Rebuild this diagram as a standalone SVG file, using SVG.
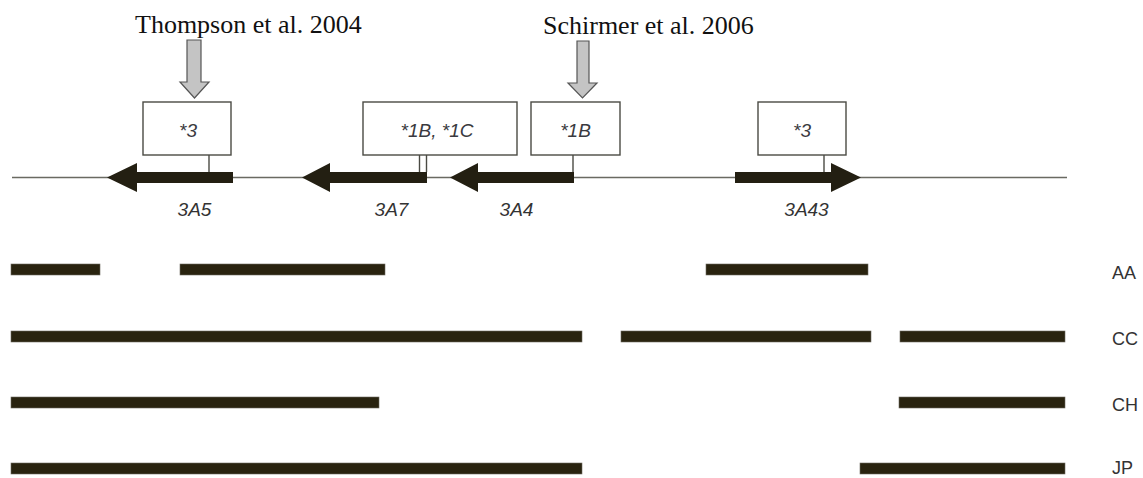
<svg xmlns="http://www.w3.org/2000/svg" width="1143" height="478" viewBox="0 0 1143 478">
<style>
.ref{font-family:"Liberation Serif",serif;font-size:26px;fill:#111}
.box{fill:#fff;stroke:#4a4a44;stroke-width:1.4}
.stem{stroke:#4a4a44;stroke-width:1.4;fill:none}
.btxt{font-family:"Liberation Sans",Arial,sans-serif;font-style:italic;font-size:19px;fill:#3a3a40;text-anchor:middle}
.gene{font-family:"Liberation Sans",Arial,sans-serif;font-style:italic;font-size:19px;fill:#333;text-anchor:middle}
.gray{fill:#c4c4c4;stroke:#555;stroke-width:1.2}
.garrow{fill:#231f12}
.bar{fill:#29230f;stroke:#6d6a60;stroke-width:0.6}
.pop{font-family:"Liberation Sans",Arial,sans-serif;font-size:18px;fill:#333}
</style>
<g id="refs">
<text class="ref" x="135" y="33">Thompson et al. 2004</text>
<text class="ref" x="543" y="34">Schirmer et al. 2006</text>
<polygon class="gray" points="187,40 201,40 201,82 209,82 194.5,98 180,82 187,82"/>
<polygon class="gray" points="577,41 589,41 589,83 597,83 582.5,98 568,83 577,83"/>
</g>
<g id="connectors">
<line x1="12" y1="177.5" x2="1067" y2="177.5" stroke="#6a6a62" stroke-width="1.5"/>
<line class="stem" x1="209" y1="155" x2="209" y2="172"/>
<line class="stem" x1="419.5" y1="155" x2="419.5" y2="172"/>
<line class="stem" x1="426.5" y1="155" x2="426.5" y2="172"/>
<line class="stem" x1="573" y1="155" x2="573" y2="172"/>
<line class="stem" x1="824" y1="155" x2="824" y2="172"/>
</g>
<g id="gene-3A5">
<polygon class="garrow" points="107,177.5 137,163 137,172 233,172 233,183 137,183 137,192"/>
<text class="gene" x="194.5" y="216">3A5</text>
</g>
<g id="gene-3A7">
<polygon class="garrow" points="302,177.5 330,163 330,172 427,172 427,183 330,183 330,192"/>
<text class="gene" x="391.5" y="216">3A7</text>
</g>
<g id="gene-3A4">
<polygon class="garrow" points="450,177.5 478,163 478,172 574,172 574,183 478,183 478,192"/>
<text class="gene" x="516.5" y="216">3A4</text>
</g>
<g id="gene-3A43">
<polygon class="garrow" points="861,177.5 831,163 831,172 735,172 735,183 831,183 831,192"/>
<text class="gene" x="806.5" y="216">3A43</text>
</g>
<g id="box-3a">
<rect class="box" x="143" y="102" width="88" height="53"/>
<text class="btxt" x="188" y="137">*3</text>
</g>
<g id="box-1b1c">
<rect class="box" x="363" y="102" width="154" height="53"/>
<text class="btxt" x="437" y="137">*1B, *1C</text>
</g>
<g id="box-1b">
<rect class="box" x="531" y="102" width="89" height="53"/>
<text class="btxt" x="575.5" y="137">*1B</text>
</g>
<g id="box-3b">
<rect class="box" x="758" y="102" width="88" height="53"/>
<text class="btxt" x="802" y="137">*3</text>
</g>
<g id="row-AA">
<rect class="bar" x="11" y="264" width="89" height="11"/>
<rect class="bar" x="180" y="264" width="205" height="11"/>
<rect class="bar" x="706" y="264" width="162" height="11"/>
<text class="pop" x="1112" y="279">AA</text>
</g>
<g id="row-CC">
<rect class="bar" x="11" y="331" width="571" height="11"/>
<rect class="bar" x="621" y="331" width="250" height="11"/>
<rect class="bar" x="900" y="331" width="165" height="11"/>
<text class="pop" x="1112" y="345">CC</text>
</g>
<g id="row-CH">
<rect class="bar" x="11" y="397" width="368" height="11"/>
<rect class="bar" x="899" y="397" width="166" height="11"/>
<text class="pop" x="1112" y="411">CH</text>
</g>
<g id="row-JP">
<rect class="bar" x="11" y="463" width="571" height="11"/>
<rect class="bar" x="860" y="463" width="205" height="11"/>
<text class="pop" x="1112" y="474">JP</text>
</g>
</svg>
